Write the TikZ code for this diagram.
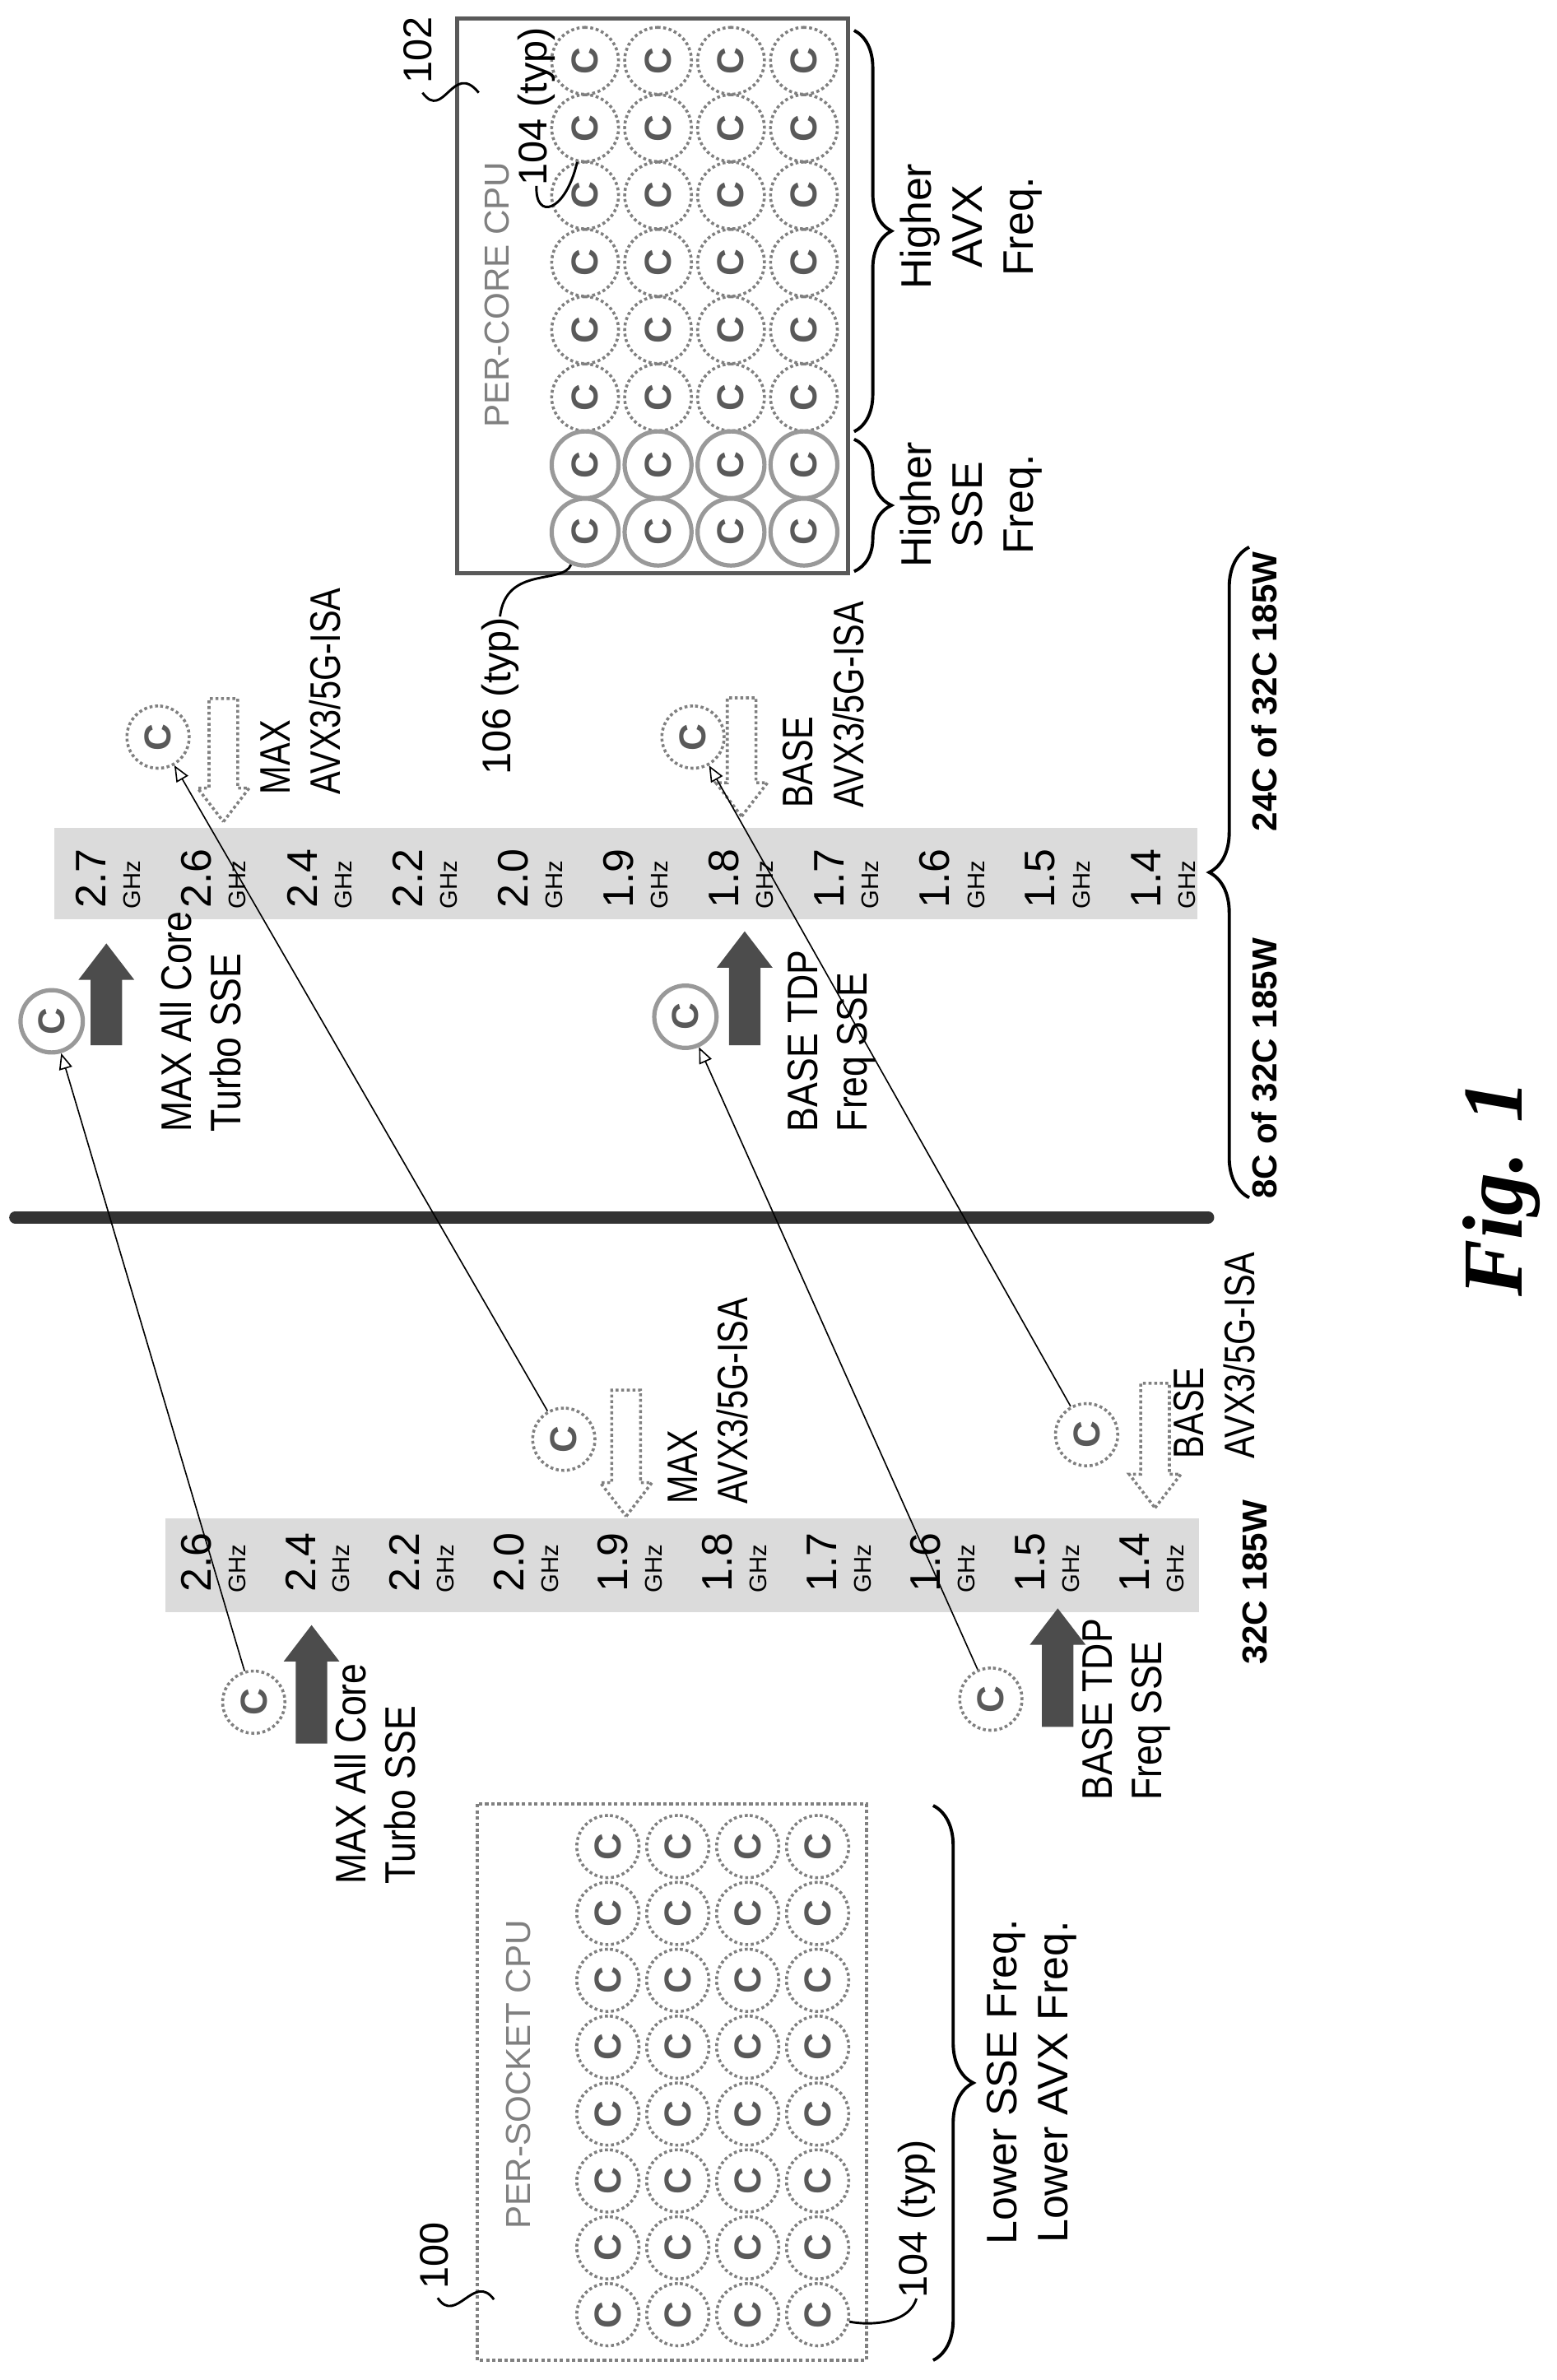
\documentclass[tikz,border=0pt]{standalone}
\usepackage{fontspec}
\setmainfont{Liberation Sans}
\newfontfamily\figfont{Liberation Serif}
\newfontfamily\narrowfont{Liberation Sans}[FakeStretch=0.8]
\newfontfamily\semifont{Liberation Sans}[FakeStretch=0.86]
\usetikzlibrary{shapes.arrows, arrows.meta, decorations.pathreplacing, positioning}

\begin{document}
\begin{tikzpicture}[x=0.02cm, y=-0.02cm,
  lbl/.style={rotate=90, font=\semifont\fontsize{16}{18.5}\selectfont, inner sep=0pt, align=left, anchor=north west},
  avxlbl/.style={lbl, font=\narrowfont\fontsize{16}{19}\selectfont},
  ctr/.style={rotate=90, font=\fontsize{16}{19}\selectfont, inner sep=0pt, align=center},
  ref/.style={rotate=90, font=\fontsize{15}{18}\selectfont, inner sep=0pt},
  bold/.style={rotate=90, font=\fontsize{13}{15}\selectfont\bfseries, inner sep=0pt},
  core/.style={circle, draw=gray, densely dotted, line width=1.1pt, minimum size=0.82cm, inner sep=0pt,
    text=gray!70!black, font=\fontsize{14}{14}\selectfont\bfseries, rotate=90},
  hot/.style={core, solid, line width=1.6pt, draw=gray!80},
  upArrow/.style={single arrow, fill=gray!60!black, draw=none, inner sep=0.2cm,
    single arrow head extend=0.16cm, single arrow tip angle=75, shape border rotate=90},
  downArrow/.style={single arrow, draw=gray, densely dotted, line width=1.1pt, inner sep=0.17cm,
    single arrow head extend=0.15cm, single arrow tip angle=75, shape border rotate=270},
  freq/.style={rotate=90, font=\fontsize{16}{16}\selectfont, inner sep=0pt},
  ghz/.style={rotate=90, font=\fontsize{9}{9}\selectfont, inner sep=0pt},
  brace/.style={decorate, line width=1.2pt},
  conn/.style={-{Triangle[open, length=6pt, width=5pt]}, line width=0.5pt},
  leader/.style={line width=0.9pt}]

\useasboundingbox (0,0) rectangle (1024,1566);

% per-core cpu
\draw[gray!70!black, line width=1.6pt] (301,12) rectangle (558,377);
\node[rotate=90, text=gray, font=\fontsize{13}{13}\selectfont] (pcLabel) at (327,194) {PER-CORE CPU};
\foreach \r in {0,...,5}
  \foreach \c in {0,...,3}
    \node[core, minimum size=0.88cm] (pc-\r-\c) at (385+48*\c, 40+44.3*\r) {C};
\foreach \r in {6,7}
  \foreach \c in {0,...,3}
    \node[hot, minimum size=0.88cm] (pc-\r-\c) at (385+48*\c, 40+44.3*\r) {C};

\node[ref] (t102) at (275,33) {102};
\coordinate (e102) at (315,61);
\draw[leader] (278,61) .. controls (292,80) and (298,40) .. (e102);
\node[ref] (t104a) at (353,70) {104 (typ)};
\draw[leader] (t104a.west) .. controls (352,145) and (372,140) .. (pc-1-0);
\node[ref] (t106) at (329,458) {106 (typ)};
\draw[leader] (t106.east) .. controls (333,372) and (370,385) .. (pc-7-0);

\draw[brace, decoration={brace, amplitude=14pt}] (562,20) -- (562,284);
\draw[brace, decoration={brace, amplitude=14pt}] (562,289) -- (562,376);
\node[ctr] (avxHi) at (639,149) {Higher\\AVX\\Freq.};
\node[ctr] (sseHi) at (639,332) {Higher\\SSE\\Freq.};

% per-socket cpu
\draw[gray, densely dotted, line width=1.3pt] (314,1187) rectangle (570,1553);
\node[rotate=90, text=gray, font=\fontsize{13}{13}\selectfont] (psLabel) at (341,1365) {PER-SOCKET CPU};
\foreach \r in {0,...,7}
  \foreach \c in {0,...,3}
    \node[core] (ps-\r-\c) at (400+46*\c, 1215+44*\r) {C};

\node[ref] (t100) at (286,1484) {100};
\coordinate (e100) at (325,1513);
\draw[leader] (288,1512) .. controls (300,1530) and (312,1495) .. (e100);
\node[ref] (t104b) at (603,1460) {104 (typ)};
\draw[leader] (t104b.west) .. controls (598,1530) and (570,1530) .. (ps-7-3);

\draw[brace, decoration={brace, amplitude=15pt}] (614,1188) -- (614,1553);
\node[ctr] (lowFreq) at (679,1370) {Lower SSE Freq.\\Lower AVX Freq.};

% separator
\draw[line width=4.5pt, gray!40!black, line cap=round] (10,801) -- (795,801);

% per-core frequency strip
\fill[gray!28] (36,545) rectangle (788,605);
\foreach \v [count=\i from 0] in {2.7,2.6,2.4,2.2,2.0,1.9,1.8,1.7,1.6,1.5,1.4} {
  \node[freq] (fr-\i) at (60+69.4*\i, 578) {\v};
  \node[ghz] (gr-\i) at (87+69.4*\i, 582) {GHz};
}
% per-socket frequency strip
\fill[gray!28] (109,999) rectangle (789,1061);
\foreach \v [count=\i from 0] in {2.6,2.4,2.2,2.0,1.9,1.8,1.7,1.6,1.5,1.4} {
  \node[freq] (fl-\i) at (129+68.6*\i, 1028) {\v};
  \node[ghz] (gl-\i) at (156+68.6*\i, 1032) {GHz};
}

% per-core icons
\node[hot] (sseMaxR) at (34,672) {C};
\node[upArrow, minimum height=1.34cm] (upMaxR) at (70,661) {};
\node[lbl] (lblMaxR) at (105,745) {MAX All Core\\Turbo SSE};
\node[core] (avxMaxR) at (104,485) {C};
\node[downArrow, minimum height=1.62cm] (dnMaxR) at (147,494) {};
\node[avxlbl] (lblAvxMaxR) at (171,523) {MAX\\AVX3/5G-ISA};
\node[hot] (sseBaseR) at (451,669) {C};
\node[upArrow, minimum height=1.5cm] (upBaseR) at (490,657) {};
\node[lbl] (lblBaseR) at (518,745) {BASE TDP\\Freq SSE};
\node[core] (avxBaseR) at (456,485) {C};
\node[downArrow, minimum height=1.56cm] (dnBaseR) at (488,492) {};
\node[avxlbl] (lblAvxBaseR) at (515,532) {BASE\\AVX3/5G-ISA};

% per-socket icons
\node[core] (sseMaxL) at (167,1120) {C};
\node[upArrow, minimum height=1.56cm] (upMaxL) at (205,1115) {};
\node[lbl] (lblMaxL) at (220,1240) {MAX All Core\\Turbo SSE};
\node[core] (avxMaxL) at (371,947) {C};
\node[downArrow, minimum height=1.66cm] (dnMaxL) at (412,950) {};
\node[avxlbl] (lblAvxMaxL) at (439,990) {MAX\\AVX3/5G-ISA};
\node[core] (sseBaseL) at (652,1118) {C};
\node[upArrow, minimum height=1.56cm] (upBaseL) at (696,1104) {};
\node[lbl] (lblBaseL) at (712,1185) {BASE TDP\\Freq SSE};
\node[core] (avxBaseL) at (715,944) {C};
\node[downArrow, minimum height=1.64cm] (dnBaseL) at (760,945) {};
\node[avxlbl] (lblAvxBaseL) at (772,960) {BASE\\AVX3/5G-ISA};

\draw[conn] (sseMaxL) -- (sseMaxR);
\draw[conn] (avxMaxL) -- (avxMaxR);
\draw[conn] (sseBaseL) -- (sseBaseR);
\draw[conn] (avxBaseL) -- (avxBaseR);

% core counts
\node[bold] (cnt32) at (826,1041) {32C 185W};
\draw[brace, decoration={brace, amplitude=15pt}] (822,788) -- (822,360);
\node[bold] (cnt24) at (832,455) {24C of 32C 185W};
\node[bold] (cnt8) at (832,703) {8C of 32C 185W};

\node[rotate=90, font=\figfont\bfseries\itshape\fontsize{32}{36}\selectfont] (fig) at (988,782) {Fig. 1};
\end{tikzpicture}
\end{document}
